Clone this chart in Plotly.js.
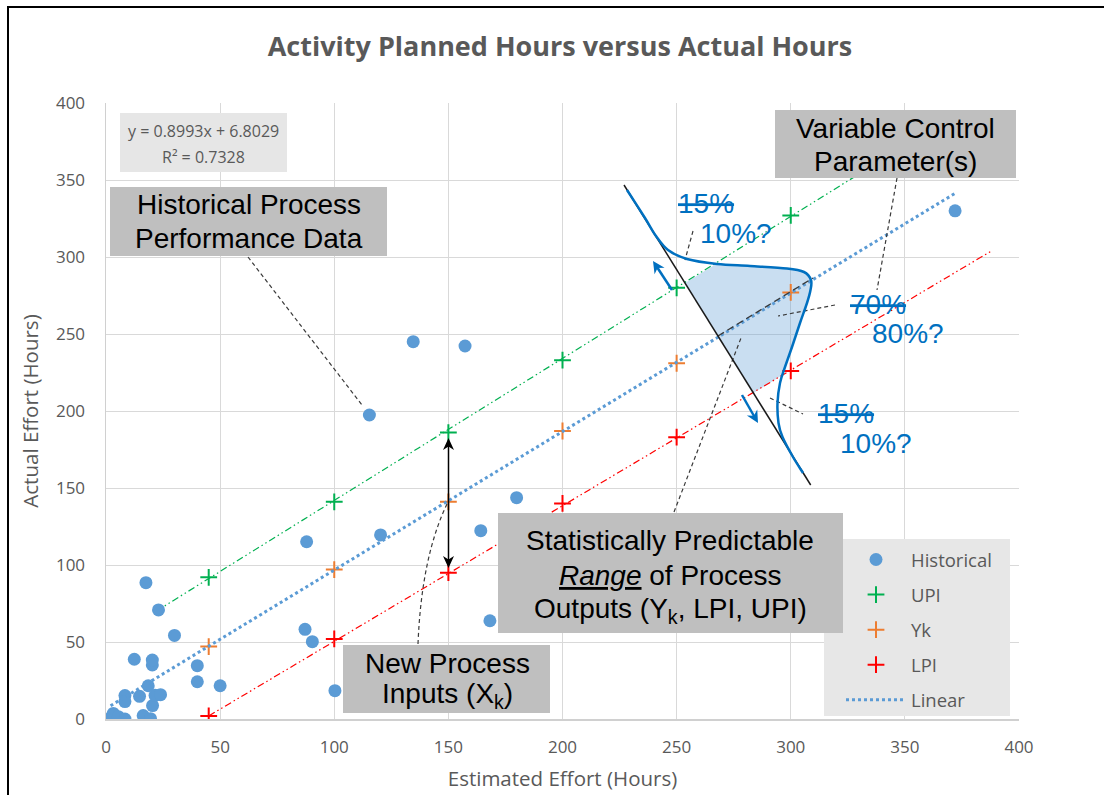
<!DOCTYPE html>
<html><head><meta charset="utf-8">
<script src="https://cdn.plot.ly/plotly-3.0.1.min.js"></script>
<style>html,body{margin:0;padding:0;background:#fff}#chart{width:1104px;height:795px}</style>
</head><body><div id="chart"></div>
<script>
// ---------------- data ----------------
const histX = [2.5, 3.2, 5.4, 8.3, 16.3, 19.5, 20.4, 8.3, 8.3, 14.7, 21.5, 23.9, 18.5, 50, 40, 40, 20.3, 20.3, 12.4, 30, 23, 17.5, 87.2, 90.4, 100.3, 87.9, 120.3, 115.4, 134.6, 157.3, 164.2, 168.2, 179.9, 372];
const histY = [1.5, 3.6, 1.5, 0, 2.2, 0.2, 8.7, 15.2, 11.3, 14.7, 15.4, 15.8, 21.6, 21.6, 24.2, 34.6, 35.1, 38.3, 38.8, 54.3, 70.8, 88.5, 58.2, 50.2, 18.4, 115.1, 119.5, 197.4, 245, 242.2, 122.3, 63.8, 143.7, 330];
const newX = [45, 100, 150, 200, 250, 300];
const upiY = [92, 141, 186, 233, 280, 327];
const ykY = [47, 97, 141, 187, 231, 277];
const lpiY = [2, 52, 95, 140, 183, 226];
const upiLineX = [22, 330];
const upiLineY = [70, 354];
const lpiLineX = [45, 388];
const lpiLineY = [2, 304];
const trendSlope = 0.8993;
const trendIntercept = 6.8029;
const trendX = [2, 372];
const trendY = trendX.map(x => trendSlope * x + trendIntercept);
const tickVals = [0, 50, 100, 150, 200, 250, 300, 350, 400];
const tickText = ['0', '50', '100', '150', '200', '250', '300', '350', '400'];

// ---------------- helpers (pixel -> axis / paper) ----------------
const L = 106, T = 103, W = 913, H = 616;
const dx = px => (px - L) / W * 400;
const dy = py => (T + H - py) / H * 400;
const pxp = px => (px - L) / W;
const pyp = py => (T + H - py) / H;

const GRAY = '#595959', BLUE = '#0070C0';
const CAL = '"Open Sans", Lato, sans-serif';
const ARIAL = '"Liberation Sans", Arial, sans-serif';

function pt(p) { return dx(p[0]).toFixed(3) + ',' + dy(p[1]).toFixed(3); }
function smooth(pts) {
  let s = '';
  for (let i = 0; i < pts.length - 1; i++) {
    const p0 = pts[i - 1] || pts[i], p1 = pts[i], p2 = pts[i + 1], p3 = pts[i + 2] || p2;
    const c1 = [p1[0] + (p2[0] - p0[0]) / 6, p1[1] + (p2[1] - p0[1]) / 6];
    const c2 = [p2[0] - (p3[0] - p1[0]) / 6, p2[1] - (p3[1] - p1[1]) / 6];
    s += ' C' + pt(c1) + ' ' + pt(c2) + ' ' + pt(p2);
  }
  return s;
}
function rect(x0, y0, x1, y1, fill) {
  return {type: 'rect', xref: 'x', yref: 'y', x0: dx(x0), x1: dx(x1), y0: dy(y1), y1: dy(y0),
    fillcolor: fill, line: {width: 0}, layer: 'above'};
}
function seg(x0, y0, x1, y1, color, width, dash) {
  return {type: 'line', xref: 'x', yref: 'y', x0: dx(x0), y0: dy(y0), x1: dx(x1), y1: dy(y1),
    line: {color: color, width: width, dash: dash || 'solid'}, layer: 'above'};
}
function txt(px, py, text, size, color, family) {
  return {xref: 'x', yref: 'y', x: dx(px), y: dy(py), text: text, showarrow: false,
    xanchor: 'center', yanchor: 'middle', font: {size: size, color: color, family: family}};
}
function head(tip, from, color, len, hw) {
  const vx = tip[0] - from[0], vy = tip[1] - from[1], n = Math.hypot(vx, vy);
  const ux = vx / n, uy = vy / n, nx = -uy, ny = ux;
  const b = [tip[0] - ux * len, tip[1] - uy * len];
  const a1 = [b[0] + nx * hw, b[1] + ny * hw], a2 = [b[0] - nx * hw, b[1] - ny * hw];
  const notch = [tip[0] - ux * len * 0.7, tip[1] - uy * len * 0.7];
  return {type: 'path', xref: 'x', yref: 'y', layer: 'above', fillcolor: color, line: {width: 0},
    path: 'M' + pt(tip) + ' L' + pt(a1) + ' L' + pt(notch) + ' L' + pt(a2) + ' Z'};
}
function arrow(tail, tip, color, width, len, hw, both) {
  const vx = tip[0] - tail[0], vy = tip[1] - tail[1], n = Math.hypot(vx, vy);
  const ux = vx / n, uy = vy / n;
  const e = [tip[0] - ux * len * 0.6, tip[1] - uy * len * 0.6];
  const s = both ? [tail[0] + ux * len * 0.6, tail[1] + uy * len * 0.6] : tail;
  const out = [seg(s[0], s[1], e[0], e[1], color, width), head(tip, tail, color, len, hw)];
  if (both) out.push(head(tail, tip, color, len, hw));
  return out;
}

// ---------------- traces ----------------
const traces = [
  {x: upiLineX, y: upiLineY, mode: 'lines', showlegend: false, hoverinfo: 'skip',
   line: {color: '#00B050', width: 1.2, dash: '7px,3px,1.5px,3px,1.5px,3px'}},
  {x: lpiLineX, y: lpiLineY, mode: 'lines', showlegend: false, hoverinfo: 'skip',
   line: {color: '#FF0000', width: 1.2, dash: '7px,3px,1.5px,3px,1.5px,3px'}},
  {x: histX, y: histY, mode: 'markers', name: 'Historical', legendgroup: 'a', legendrank: 1,
   marker: {color: '#5B9BD5', size: 13}},
  {x: newX, y: upiY, mode: 'markers', name: 'UPI', legendgroup: 'b', legendrank: 2,
   marker: {symbol: 'cross-thin', size: 12, line: {color: '#00B050', width: 2}}},
  {x: newX, y: ykY, mode: 'markers', name: 'Yk', legendgroup: 'c', legendrank: 3,
   marker: {symbol: 'cross-thin', size: 12, line: {color: '#ED7D31', width: 2}}},
  {x: newX, y: lpiY, mode: 'markers', name: 'LPI', legendgroup: 'd', legendrank: 4,
   marker: {symbol: 'cross-thin', size: 12, line: {color: '#FF0000', width: 2}}},
  {x: trendX, y: trendY, mode: 'lines', name: 'Linear', legendgroup: 'e', legendrank: 5,
   line: {color: '#5B9BD5', width: 3, dash: 'dot'}}
];

// ---------------- overlay drawing ----------------
const curvePts = [[627,190],[645,218],[656,236],[668,250],[687,259],[717,264],[750,266],[787,268.5],[804,272],[811,280],[810.5,290],[807,303],[800,323],[792,347],[785,367],[780,383],[777.5,403],[778.5,423],[782.5,437],[793,457],[803,473]];
const fillPts = [[716,264],[750,266],[787,268.5],[804,272],[811,280],[810.5,290],[807,303],[800,323],[792,347],[785,367],[782.5,375]];
const fillPath = 'M' + pt([685,283]) + ' L' + pt(fillPts[0]) + smooth(fillPts) + ' L' + pt([753.5,393]) + ' Z';
const curvePath = 'M' + pt(curvePts[0]) + smooth(curvePts);

const DASHC = '#3a3a3a';
const shapes = [
  {type: 'path', xref: 'x', yref: 'y', path: fillPath, fillcolor: 'rgba(91,155,213,0.33)', line: {width: 0}, layer: 'between'},
  // gray boxes
  rect(120, 113, 287, 172, '#e6e6e6'),
  rect(824, 539, 1010, 716, '#e7e7e7'),
  rect(110, 187, 387, 256, '#bfbfbf'),
  rect(775, 110, 1016, 178, '#bfbfbf'),
  rect(498, 513, 843, 633, '#bfbfbf'),
  rect(343, 645, 550, 713, '#bfbfbf'),
  // leader lines
  seg(248, 257, 362, 405, DASHC, 1.2, '4px,3px'),
  seg(674, 512, 741, 338, DASHC, 1.2, '4px,3px'),
  seg(897, 178, 877, 290, DASHC, 1.2, '4px,3px'),
  seg(835, 305, 778, 316, DASHC, 1.2, '4px,3px'),
  seg(693, 231, 685, 260, DASHC, 1.2, '4px,3px'),
  seg(770, 398, 803, 414, DASHC, 1.2, '4px,3px'),
  seg(718, 336, 813, 278, DASHC, 1.3, '7px,4px'),
  {type: 'path', xref: 'x', yref: 'y', layer: 'above',
   path: 'M' + pt([418,644]) + ' Q' + pt([421.5,557]) + ' ' + pt([447,504]),
   line: {color: DASHC, width: 1.2, dash: '4px,3px'}},
  // distribution
  seg(624, 185, 810.7, 485, '#1a1a1a', 1.5),
  {type: 'path', xref: 'x', yref: 'y', path: curvePath, line: {color: BLUE, width: 2.5}, layer: 'above'},
  // arrows
  ...arrow([672, 290], [653, 261], BLUE, 2.5, 12, 6, false),
  ...arrow([742, 395], [758, 423], BLUE, 2.5, 12, 6, false),
  ...arrow([448.5, 568], [448.5, 438], '#000', 1.5, 12, 5.5, true),
  // outer frame
  {type: 'path', xref: 'paper', yref: 'paper', layer: 'above',
   path: 'M' + pxp(8) + ',' + pyp(810) + ' L' + pxp(8) + ',' + pyp(7) + ' L' + pxp(1120) + ',' + pyp(7),
   line: {color: '#000', width: 2}}
];

const annotations = [
  txt(203.5, 131, 'y = 0.8993x + 6.8029', 16, GRAY, CAL),
  txt(203.5, 157, 'R² = 0.7328', 16, GRAY, CAL),
  txt(248.5, 204, 'Historical Process', 28, '#000', ARIAL),
  txt(248.5, 238.5, 'Performance Data', 28, '#000', ARIAL),
  txt(895, 128, 'Variable Control', 28, '#000', ARIAL),
  txt(895, 161, 'Parameter(s)', 28, '#000', ARIAL),
  txt(670, 540, 'Statistically Predictable', 28, '#000', ARIAL),
  txt(670, 575, '<i><u>Range</u></i> of Process', 28, '#000', ARIAL),
  txt(670, 610, 'Outputs (Y<sub>k</sub>, LPI, UPI)', 28, '#000', ARIAL),
  txt(447, 663, 'New Process', 28, '#000', ARIAL),
  txt(447, 695, 'Inputs (X<sub>k</sub>)', 28, '#000', ARIAL),
  txt(706, 203, '<s>15%</s>', 28, BLUE, ARIAL),
  txt(736, 233, '10%?', 28, BLUE, ARIAL),
  txt(878, 304, '<s>70%</s>', 28, BLUE, ARIAL),
  txt(908, 333, '80%?', 28, BLUE, ARIAL),
  txt(846, 413, '<s>15%</s>', 28, BLUE, ARIAL),
  txt(876, 443, '10%?', 28, BLUE, ARIAL)
];

const axisCommon = {
  range: [0, 400], tickvals: tickVals, ticktext: tickText, showgrid: true, gridcolor: '#d9d9d9',
  gridwidth: 1, zeroline: false, showline: true, linecolor: '#d0d0d0', linewidth: 1.5,
  ticks: '', tickfont: {family: CAL, size: 17, color: GRAY}, fixedrange: true
};

const layout = {
  width: 1104, height: 795,
  margin: {l: L, r: 1104 - L - W, t: T, b: 795 - T - H},
  paper_bgcolor: '#fff', plot_bgcolor: '#fff',
  title: {text: 'Activity Planned Hours versus Actual Hours', xref: 'container', yref: 'container',
    x: 560 / 1104, xanchor: 'center', y: 1 - 47 / 795, yanchor: 'middle',
    font: {family: CAL, size: 27, color: GRAY, weight: 'bold'}},
  xaxis: Object.assign({}, axisCommon, {ticklabelstandoff: 12,
    title: {text: 'Estimated Effort (Hours)', standoff: 14, font: {family: CAL, size: 20.5, color: GRAY}}}),
  yaxis: Object.assign({}, axisCommon, {ticklabelstandoff: 16,
    title: {text: 'Actual Effort (Hours)', standoff: 12, font: {family: CAL, size: 20.5, color: GRAY}}}),
  showlegend: true,
  legend: {x: pxp(841), y: pyp(541), xanchor: 'left', yanchor: 'top', bgcolor: 'rgba(0,0,0,0)',
    borderwidth: 0, itemwidth: 60, tracegroupgap: 8, traceorder: 'grouped',
    font: {family: CAL, size: 18.5, color: GRAY}},
  shapes: shapes,
  annotations: annotations
};

Plotly.newPlot('chart', traces, layout, {displayModeBar: false, staticPlot: true});
</script>
</body></html>
